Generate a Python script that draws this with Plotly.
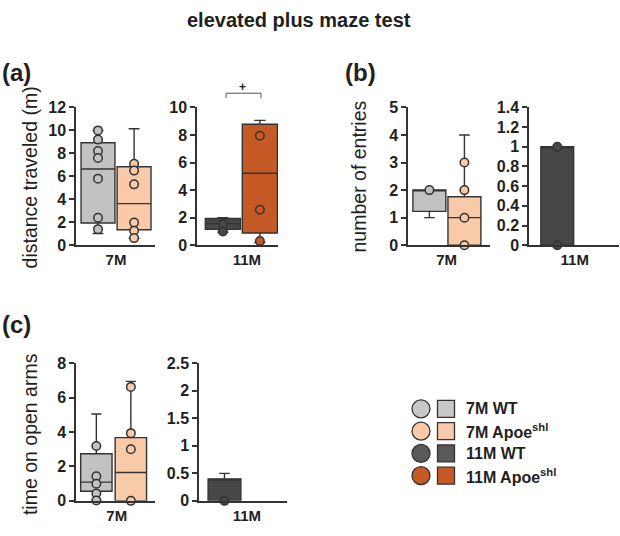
import plotly.graph_objects as go

W, H = 620, 536

# ---------------- data ----------------
group_names = ["7M WT", "7M Apoe<sup>shl</sup>", "11M WT", "11M Apoe<sup>shl</sup>"]
fill_colors = ["#c2c2c2", "#f8caa8", "#474747", "#c65a27"]
legend_circle_colors = ["#c8c8c8", "#f8caa8", "#595959", "#c65a27"]
legend_square_colors = ["#c8c8c8", "#f8caa8", "#595959", "#c65a27"]

# box stats: [lowerfence, q1, median, q3, upperfence]
dist_7m_wt_box = [1.02, 1.94, 6.64, 8.93, 10.0]
dist_7m_wt_pts = [10.0, 9.2, 8.2, 7.6, 5.8, 2.4, 1.4]
dist_7m_ap_box = [0.6, 1.35, 3.62, 6.83, 10.15]
dist_7m_ap_pts = [7.1, 6.5, 5.3, 1.97, 1.26, 0.62]
dist_11m_wt_box = [0.95, 1.15, 1.57, 1.94, 2.0]
dist_11m_wt_pts = [1.52, 1.0]
dist_11m_ap_box = [0.2, 0.89, 5.22, 8.78, 9.06]
dist_11m_ap_pts = [7.94, 2.58, 0.3]

entr_7m_wt_box = [1.0, 1.23, 2.0, 2.01, 2.01]
entr_7m_wt_pts = [2.0]
entr_7m_ap_box = [0.0, 0.0, 1.0, 1.76, 4.0]
entr_7m_ap_pts = [3.0, 2.0, 1.0, 0.0]
entr_11m_wt_box = [0.0, 0.0, 1.0, 1.0, 1.0]
entr_11m_wt_pts = [1.0, 0.0]

time_7m_wt_box = [0.02, 0.56, 1.09, 2.74, 5.05]
time_7m_wt_pts = [3.19, 1.43, 1.0, 0.43, 0.02]
time_7m_ap_box = [0.0, 0.0, 1.65, 3.68, 6.95]
time_7m_ap_pts = [6.63, 3.94, 3.0, 0.0]
time_11m_wt_box = [0.0, 0.0, 0.4, 0.4, 0.5]
time_11m_wt_pts = [0.0]

y_titles = ["distance traveled (m)", "number of entries", "time on open arms"]
age_labels = ["7M", "11M"]
title_text = "elevated plus maze test"
panel_labels = ["(a)", "(b)", "(c)"]
sig_text = "+"

# ---------------- layout helpers ----------------
FONT = "Liberation Sans, Arial, sans-serif"
TXT = "#231f20"
LINE = "#333333"


def px_x(x):
    return x / W


def px_y(y):
    return 1 - y / H


# subplot specs: x domain px, y domain px (top, bottom), x range, label pos, ymax, dtick, box width
subplots = [
    dict(xd=(76, 155), yd=(102.7, 245), xr=[-0.61, 1.58], lab=0.5, ymax=12, dt=2, bw=0.94, age=0),
    dict(xd=(197, 278), yd=(102.7, 245), xr=[-0.70, 1.49], lab=0.65, ymax=10, dt=2, bw=0.95, age=1),
    dict(xd=(408, 490), yd=(102.7, 245), xr=[-0.61, 1.73], lab=0.49, ymax=5, dt=1, bw=0.94, age=0),
    dict(xd=(529, 619), yd=(102.7, 245), xr=[-0.81, 1.77], lab=0.5, ymax=1.4, dt=0.2, bw=0.94, age=1),
    dict(xd=(76, 155), yd=(367, 509), xr=[-0.59, 1.70], lab=0.59, ymax=8, dt=2, bw=0.91, age=0),
    dict(xd=(199, 287), yd=(367, 509), xr=[-0.73, 1.79], lab=0.64, ymax=2.5, dt=0.5, bw=0.94, age=1),
]

# which series go in which subplot: (box, points, group index, position)
series = [
    [(dist_7m_wt_box, dist_7m_wt_pts, 0, 0), (dist_7m_ap_box, dist_7m_ap_pts, 1, 1)],
    [(dist_11m_wt_box, dist_11m_wt_pts, 2, 0), (dist_11m_ap_box, dist_11m_ap_pts, 3, 1)],
    [(entr_7m_wt_box, entr_7m_wt_pts, 0, 0), (entr_7m_ap_box, entr_7m_ap_pts, 1, 1)],
    [(entr_11m_wt_box, entr_11m_wt_pts, 2, 0)],
    [(time_7m_wt_box, time_7m_wt_pts, 0, 0), (time_7m_ap_box, time_7m_ap_pts, 1, 1)],
    [(time_11m_wt_box, time_11m_wt_pts, 2, 0)],
]

fig = go.Figure()
layout = dict(
    width=W, height=H,
    margin=dict(l=0, r=0, t=0, b=0),
    paper_bgcolor="white", plot_bgcolor="rgba(0,0,0,0)",
    showlegend=False, boxmode="overlay",
    font=dict(family=FONT, color=TXT),
)

for i, (sp, ser) in enumerate(zip(subplots, series), start=1):
    xa = "x" if i == 1 else f"x{i}"
    ya = "y" if i == 1 else f"y{i}"
    for box, pts, g, pos in ser:
        fig.add_trace(go.Box(
            x=[pos], lowerfence=[box[0]], q1=[box[1]], median=[box[2]],
            q3=[box[3]], upperfence=[box[4]],
            width=sp["bw"], whiskerwidth=0.32,
            fillcolor=fill_colors[g], line=dict(color=LINE, width=1.4),
            boxpoints=False, xaxis=xa, yaxis=ya, hoverinfo="skip",
        ))
    for box, pts, g, pos in ser:
        fig.add_trace(go.Scatter(
            x=[pos] * len(pts), y=pts, mode="markers", cliponaxis=False,
            marker=dict(size=8.5, color=fill_colors[g], line=dict(color=LINE, width=1.5)),
            xaxis=xa, yaxis=ya, hoverinfo="skip",
        ))
    xkey = "xaxis" if i == 1 else f"xaxis{i}"
    ykey = "yaxis" if i == 1 else f"yaxis{i}"
    layout[xkey] = dict(
        domain=[px_x(sp["xd"][0]), px_x(sp["xd"][1])], range=sp["xr"],
        anchor=ya, showline=True, linecolor=LINE, linewidth=1.5,
        showgrid=False, zeroline=False, ticks="",
        tickvals=[sp["lab"]], ticktext=[age_labels[sp["age"]]],
        tickfont=dict(size=15, family=FONT, color=TXT, weight="bold"),
        fixedrange=True,
    )
    layout[ykey] = dict(
        domain=[px_y(sp["yd"][1]), px_y(sp["yd"][0])], range=[0, sp["ymax"]],
        anchor=xa, showline=True, linecolor=LINE, linewidth=1.5,
        showgrid=False, zeroline=False, ticks="outside", ticklen=5,
        tickwidth=1.5, tickcolor=LINE, dtick=sp["dt"], tick0=0,
        tickfont=dict(size=16, family=FONT, color=TXT, weight="bold"),
        fixedrange=True,
    )

# legend overlay axes in pixel coordinates
layout["xaxis7"] = dict(domain=[0, 1], range=[0, W], visible=False, fixedrange=True)
layout["yaxis7"] = dict(domain=[0, 1], range=[H, 0], visible=False, fixedrange=True, anchor="x7")
row_y = [414 + 23 * k for k in range(len(group_names))]
fig.add_trace(go.Scatter(
    x=[421] * len(group_names), y=row_y, mode="markers", xaxis="x7", yaxis="y7",
    marker=dict(symbol="circle", size=18, color=legend_circle_colors, line=dict(color=LINE, width=1.3)),
    hoverinfo="skip", cliponaxis=False,
))
fig.add_trace(go.Scatter(
    x=[446] * len(group_names), y=row_y, mode="markers", xaxis="x7", yaxis="y7",
    marker=dict(symbol="square", size=17, color=legend_square_colors, line=dict(color=LINE, width=1.3)),
    hoverinfo="skip", cliponaxis=False,
))

annotations = []
for name, yy in zip(group_names, row_y):
    annotations.append(dict(
        x=px_x(464), y=px_y(yy), xref="paper", yref="paper", text=name,
        showarrow=False, xanchor="left", yanchor="middle",
        font=dict(size=16, family=FONT, color=TXT, weight="bold"),
    ))

annotations.append(dict(
    x=px_x(299), y=px_y(12), xref="paper", yref="paper", text=title_text,
    showarrow=False, xanchor="center", yanchor="middle",
    font=dict(size=20, family=FONT, color=TXT, weight="bold"),
))

for lab, (lx, ly) in zip(panel_labels, [(0, 67), (343, 67), (0, 327)]):
    annotations.append(dict(
        x=px_x(lx), y=px_y(ly), xref="paper", yref="paper", text=lab,
        showarrow=False, xanchor="left", yanchor="middle",
        font=dict(size=24, family=FONT, color=TXT, weight="bold"),
    ))

for t, (tx, ty) in zip(y_titles, [(30, 175), (359, 174), (30, 440)]):
    annotations.append(dict(
        x=px_x(tx), y=px_y(ty), xref="paper", yref="paper", text=t,
        showarrow=False, xanchor="center", yanchor="middle", textangle=-90,
        font=dict(size=19.5, family=FONT, color=TXT),
    ))

# significance bracket (a) 11M
annotations.append(dict(
    x=px_x(243), y=px_y(82), xref="paper", yref="paper", text=sig_text,
    showarrow=False, xanchor="center", yanchor="middle",
    font=dict(size=12, family=FONT, color=TXT, weight="bold"),
))
layout["annotations"] = annotations
layout["shapes"] = [dict(
    type="path", xref="paper", yref="paper",
    path=(f"M {px_x(226)} {px_y(93)} L {px_x(226)} {px_y(88)} "
          f"L {px_x(261)} {px_y(88)} L {px_x(261)} {px_y(93)}"),
    line=dict(color="#555555", width=1),
)]

fig.update_layout(**layout)
fig.write_html("out.html")
